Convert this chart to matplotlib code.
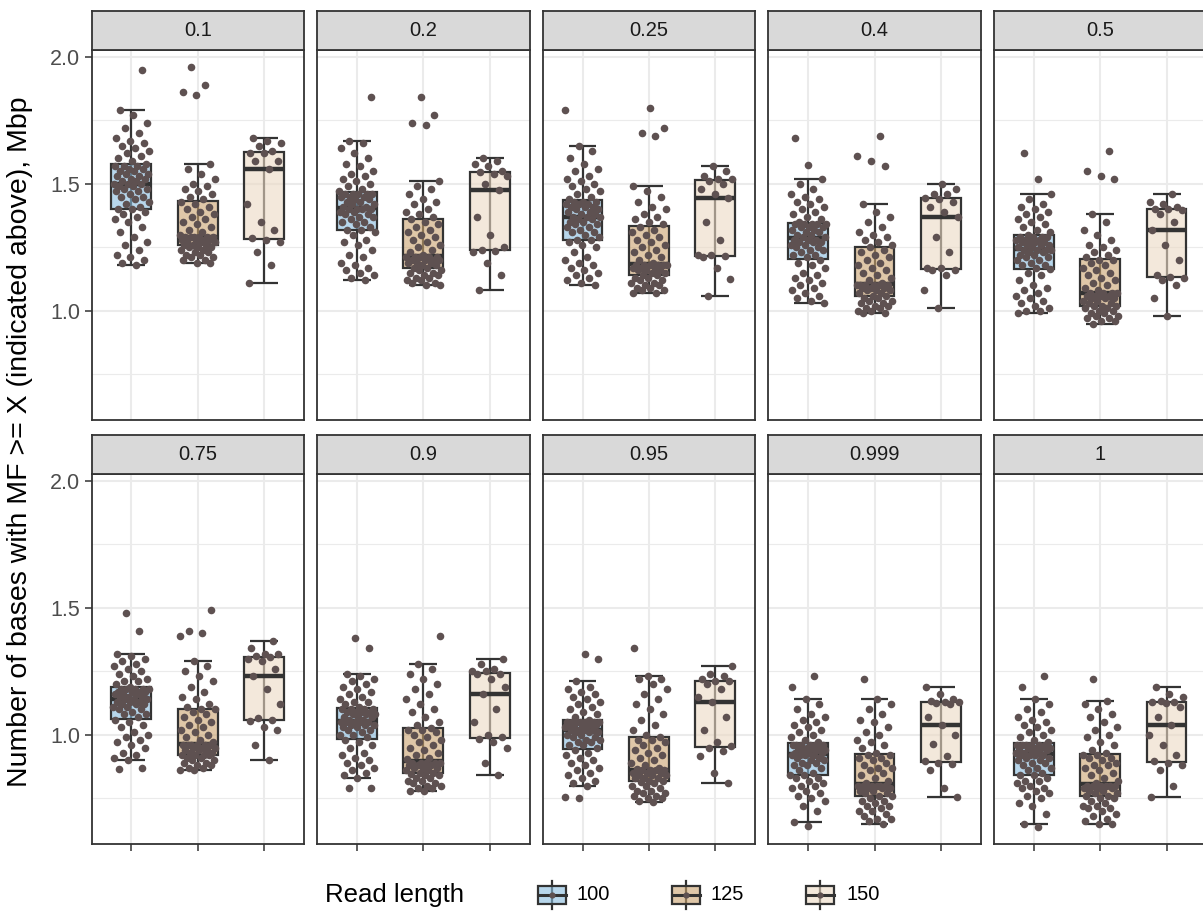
import numpy as np
import matplotlib
matplotlib.use("Agg")
import matplotlib.pyplot as plt
from matplotlib.patches import Rectangle
from matplotlib import cbook

# ---------------- data (Mbp) ----------------
thresholds = ["0.1", "0.2", "0.25", "0.4", "0.5", "0.75", "0.9", "0.95", "0.999", "1"]
read_lengths = ["100", "125", "150"]

a100_t0_1 = [1.18,1.19,1.20,1.21,1.22,1.24,1.26,1.27,1.29,1.31,1.33,1.35,1.36,1.37,1.38,1.39,1.40,
             1.40,1.41,1.42,1.43,1.44,1.45,1.45,1.46,1.47,1.47,1.48,1.48,1.49,1.49,1.50,1.50,
             1.50,1.51,1.51,1.52,1.52,1.53,1.53,1.54,1.54,1.55,1.55,1.56,1.56,1.57,1.57,1.57,
             1.58,1.59,1.60,1.61,1.62,1.63,1.64,1.65,1.66,1.67,1.68,1.70,1.72,1.74,1.77,1.79,
             1.95]
a125_t0_1 = [1.19,1.19,1.20,1.20,1.21,1.21,1.22,1.22,1.23,1.23,1.24,1.24,1.25,1.25,1.25,
             1.26,1.26,1.26,1.27,1.27,1.27,1.28,1.28,1.28,1.28,1.29,1.29,1.29,1.29,1.29,
             1.29,1.30,1.31,1.32,1.33,1.34,1.35,1.36,1.37,1.38,1.39,1.40,1.41,1.42,1.43,
             1.44,1.45,1.46,1.47,1.48,1.49,1.50,1.52,1.54,1.56,1.58,
             1.85,1.86,1.89,1.96]
a150_t0_1 = [1.11,1.18,1.23,1.27,1.28,1.285,1.32,1.35,1.42,1.56,1.59,1.59,1.62,1.62,1.63,1.65,1.66,1.67,1.68]

a100_t0_2 = [1.12,1.13,1.14,1.15,1.16,1.17,1.18,1.19,1.21,1.22,1.24,1.26,1.27,1.28,1.30,1.31,1.32,
             1.32,1.33,1.34,1.35,1.35,1.36,1.37,1.37,1.38,1.38,1.39,1.39,1.40,1.40,1.40,1.40,
             1.41,1.41,1.42,1.42,1.43,1.43,1.44,1.44,1.45,1.45,1.45,1.46,1.46,1.46,1.46,1.46,
             1.47,1.48,1.49,1.50,1.51,1.52,1.53,1.54,1.55,1.57,1.58,1.60,1.62,1.64,1.66,1.67,
             1.84]
a125_t0_2 = [1.10,1.10,1.11,1.11,1.12,1.12,1.13,1.13,1.14,1.14,1.15,1.15,1.16,1.16,1.17,
             1.17,1.18,1.18,1.19,1.19,1.19,1.20,1.20,1.20,1.20,1.21,1.21,1.21,1.21,1.21,
             1.22,1.23,1.24,1.25,1.26,1.27,1.28,1.29,1.30,1.31,1.32,1.33,1.34,1.35,1.36,
             1.37,1.38,1.39,1.40,1.42,1.43,1.44,1.46,1.48,1.49,1.51,
             1.73,1.74,1.77,1.84]
a150_t0_2 = [1.08,1.14,1.19,1.23,1.235,1.24,1.25,1.30,1.37,1.475,1.50,1.53,1.54,1.545,1.55,1.57,1.58,1.59,1.60]

a100_t0_25 = [1.10,1.11,1.12,1.13,1.14,1.15,1.16,1.17,1.18,1.19,1.20,1.21,1.23,1.25,1.26,1.27,1.28,
              1.28,1.29,1.30,1.31,1.31,1.32,1.33,1.33,1.34,1.34,1.35,1.35,1.36,1.36,1.37,1.37,
              1.37,1.38,1.38,1.39,1.39,1.40,1.40,1.41,1.41,1.41,1.42,1.42,1.42,1.43,1.43,1.43,
              1.44,1.45,1.46,1.47,1.48,1.49,1.50,1.51,1.52,1.53,1.55,1.56,1.58,1.60,1.63,1.65,
              1.79]
a125_t0_25 = [1.07,1.07,1.08,1.08,1.09,1.09,1.10,1.10,1.11,1.11,1.12,1.12,1.13,1.13,1.14,
              1.14,1.15,1.15,1.16,1.16,1.16,1.17,1.17,1.17,1.18,1.18,1.18,1.18,1.18,1.18,
              1.19,1.20,1.21,1.22,1.23,1.24,1.25,1.26,1.27,1.28,1.29,1.30,1.31,1.32,1.33,
              1.34,1.35,1.36,1.37,1.38,1.40,1.41,1.43,1.45,1.47,1.49,
              1.69,1.70,1.72,1.80]
a150_t0_25 = [1.06,1.125,1.17,1.21,1.215,1.22,1.22,1.28,1.35,1.445,1.46,1.48,1.50,1.51,1.52,1.52,1.53,1.55,1.57]

a100_t0_4 = [1.03,1.04,1.05,1.06,1.07,1.08,1.09,1.10,1.11,1.12,1.13,1.14,1.15,1.17,1.18,1.19,1.20,
             1.21,1.22,1.22,1.23,1.24,1.24,1.25,1.25,1.26,1.26,1.27,1.27,1.27,1.28,1.28,1.28,
             1.29,1.29,1.30,1.30,1.31,1.31,1.32,1.32,1.33,1.33,1.33,1.34,1.34,1.34,1.34,1.34,
             1.35,1.36,1.37,1.38,1.39,1.40,1.41,1.42,1.43,1.44,1.45,1.46,1.48,1.50,1.52,
             1.575,1.68]
a125_t0_4 = [0.99,0.99,1.00,1.00,1.01,1.01,1.02,1.02,1.03,1.03,1.04,1.04,1.05,1.05,1.06,
             1.06,1.07,1.07,1.08,1.08,1.08,1.09,1.09,1.09,1.10,1.10,1.10,1.10,1.10,1.10,
             1.11,1.12,1.13,1.14,1.15,1.16,1.17,1.18,1.19,1.20,1.21,1.22,1.23,1.24,1.25,
             1.26,1.27,1.28,1.29,1.30,1.31,1.33,1.35,1.37,1.39,1.42,
             1.57,1.59,1.61,1.69]
a150_t0_4 = [1.01,1.08,1.14,1.16,1.16,1.17,1.17,1.23,1.29,1.37,1.39,1.41,1.43,1.44,1.445,1.46,1.46,1.48,1.50]

a100_t0_5 = [0.99,1.00,1.00,1.01,1.02,1.03,1.04,1.05,1.06,1.07,1.08,1.09,1.10,1.12,1.14,1.15,1.165,
             1.17,1.18,1.18,1.19,1.20,1.20,1.21,1.21,1.22,1.22,1.23,1.23,1.24,1.24,1.24,1.24,
             1.25,1.25,1.26,1.26,1.26,1.27,1.27,1.27,1.28,1.28,1.28,1.28,1.29,1.29,1.29,1.29,
             1.30,1.31,1.32,1.33,1.34,1.35,1.36,1.37,1.38,1.39,1.40,1.41,1.42,1.44,1.46,
             1.52,1.62]
a125_t0_5 = [0.95,0.96,0.96,0.97,0.97,0.98,0.98,0.99,0.99,1.00,1.00,1.01,1.01,1.02,1.02,
             1.02,1.03,1.03,1.04,1.04,1.05,1.05,1.05,1.06,1.06,1.06,1.06,1.07,1.07,1.07,
             1.07,1.08,1.09,1.10,1.11,1.12,1.13,1.14,1.15,1.16,1.17,1.18,1.19,1.20,1.20,
             1.21,1.22,1.23,1.24,1.25,1.26,1.28,1.30,1.32,1.35,1.38,
             1.52,1.53,1.55,1.63]
a150_t0_5 = [0.98,1.05,1.10,1.12,1.13,1.135,1.14,1.20,1.26,1.32,1.35,1.38,1.395,1.40,1.40,1.41,1.42,1.43,1.46]

a100_t0_75 = [0.865,0.87,0.90,0.91,0.92,0.93,0.95,0.96,0.97,0.98,0.99,1.00,1.01,1.03,1.04,1.05,1.06,
              1.07,1.08,1.08,1.09,1.10,1.10,1.11,1.11,1.12,1.12,1.12,1.13,1.13,1.13,1.14,1.14,
              1.14,1.15,1.15,1.15,1.16,1.16,1.16,1.17,1.17,1.17,1.17,1.18,1.18,1.18,1.18,1.18,
              1.19,1.20,1.21,1.21,1.22,1.23,1.24,1.25,1.26,1.27,1.28,1.29,1.30,1.31,1.32,
              1.41,1.48]
a125_t0_75 = [0.86,0.86,0.87,0.87,0.88,0.88,0.89,0.89,0.90,0.90,0.91,0.91,0.92,0.92,0.92,
              0.92,0.93,0.93,0.94,0.94,0.94,0.95,0.95,0.95,0.96,0.96,0.96,0.96,0.96,0.96,
              0.97,0.98,0.99,1.00,1.01,1.02,1.03,1.04,1.05,1.06,1.07,1.08,1.09,1.10,1.10,
              1.11,1.12,1.14,1.15,1.17,1.19,1.21,1.23,1.25,1.27,1.29,
              1.39,1.40,1.41,1.49]
a150_t0_75 = [0.90,0.96,1.02,1.03,1.055,1.06,1.065,1.12,1.18,1.23,1.26,1.29,1.30,1.305,1.31,1.32,1.32,1.34,1.37]

a100_t0_9 = [0.79,0.79,0.83,0.84,0.85,0.86,0.87,0.88,0.89,0.90,0.91,0.92,0.93,0.95,0.96,0.97,0.98,
             0.99,1.00,1.00,1.01,1.02,1.02,1.03,1.03,1.04,1.04,1.04,1.05,1.05,1.05,1.05,1.05,
             1.06,1.06,1.07,1.07,1.07,1.08,1.08,1.08,1.09,1.09,1.09,1.09,1.10,1.10,1.10,1.10,
             1.11,1.12,1.13,1.13,1.14,1.15,1.16,1.17,1.18,1.19,1.20,1.21,1.22,1.23,1.24,
             1.34,1.38]
a125_t0_9 = [0.78,0.78,0.79,0.79,0.80,0.80,0.81,0.81,0.82,0.82,0.83,0.83,0.84,0.84,0.845,
             0.85,0.85,0.86,0.86,0.87,0.87,0.87,0.88,0.88,0.88,0.89,0.89,0.89,0.89,0.89,
             0.905,0.91,0.92,0.93,0.94,0.95,0.96,0.97,0.98,0.99,1.00,1.01,1.02,1.02,1.025,
             1.04,1.05,1.07,1.09,1.10,1.12,1.14,1.16,1.18,1.20,1.22,1.24,1.26,1.28,
             1.39]
a150_t0_9 = [0.84,0.89,0.95,0.97,0.985,0.99,1.00,1.05,1.10,1.16,1.19,1.22,1.24,1.24,1.25,1.25,1.26,1.28,1.30]

a100_t0_95 = [0.75,0.755,0.80,0.81,0.82,0.83,0.84,0.85,0.86,0.87,0.88,0.89,0.90,0.91,0.92,0.93,0.94,
              0.95,0.96,0.96,0.97,0.97,0.98,0.98,0.99,0.99,1.00,1.00,1.01,1.01,1.01,1.02,1.02,
              1.02,1.02,1.03,1.03,1.03,1.04,1.04,1.04,1.04,1.05,1.05,1.05,1.05,1.05,1.05,1.05,
              1.06,1.07,1.08,1.09,1.10,1.11,1.12,1.13,1.14,1.15,1.16,1.17,1.18,1.19,1.21,
              1.30,1.32]
a125_t0_95 = [0.735,0.74,0.75,0.75,0.76,0.76,0.77,0.77,0.78,0.78,0.79,0.80,0.80,0.81,0.815,
              0.82,0.82,0.83,0.83,0.83,0.84,0.84,0.84,0.85,0.85,0.85,0.86,0.86,0.86,0.86,
              0.865,0.87,0.88,0.89,0.90,0.91,0.92,0.93,0.94,0.95,0.96,0.97,0.98,0.98,0.99,
              1.00,1.02,1.04,1.06,1.08,1.10,1.12,1.14,1.16,1.18,1.20,1.22,1.22,1.23,
              1.34]
a150_t0_95 = [0.81,0.85,0.915,0.935,0.95,0.955,0.97,1.02,1.07,1.13,1.15,1.18,1.20,1.21,1.21,1.22,1.23,1.24,1.27]

a100_t0_999 = [0.64,0.655,0.70,0.72,0.74,0.75,0.76,0.77,0.78,0.79,0.80,0.80,0.81,0.82,0.83,0.83,0.84,
               0.84,0.85,0.86,0.87,0.88,0.88,0.89,0.89,0.90,0.90,0.91,0.91,0.92,0.92,0.92,0.92,
               0.93,0.93,0.93,0.94,0.94,0.94,0.95,0.95,0.95,0.95,0.96,0.96,0.96,0.96,0.96,0.96,
               0.97,0.98,0.99,1.00,1.01,1.02,1.03,1.04,1.05,1.06,1.07,1.08,1.10,1.12,1.14,
               1.19,1.23]
a125_t0_999 = [0.65,0.66,0.67,0.67,0.68,0.69,0.70,0.70,0.71,0.72,0.72,0.73,0.74,0.74,0.75,
               0.76,0.76,0.77,0.77,0.78,0.78,0.79,0.79,0.79,0.80,0.80,0.80,0.80,0.80,0.80,
               0.81,0.82,0.83,0.84,0.85,0.86,0.87,0.87,0.88,0.89,0.90,0.91,0.91,0.92,0.92,
               0.93,0.95,0.96,0.97,0.98,1.00,1.01,1.03,1.05,1.06,1.08,1.10,1.12,1.14,
               1.22]
a150_t0_999 = [0.755,0.79,0.86,0.885,0.89,0.895,0.915,0.965,1.00,1.04,1.07,1.12,1.125,1.13,1.13,1.135,1.14,1.16,1.19]

a100_t1 = [0.635,0.65,0.69,0.72,0.73,0.75,0.76,0.77,0.78,0.79,0.79,0.80,0.81,0.82,0.82,0.83,0.84,
           0.84,0.85,0.86,0.87,0.87,0.88,0.89,0.89,0.90,0.90,0.91,0.91,0.92,0.92,0.92,0.92,
           0.93,0.93,0.93,0.94,0.94,0.94,0.95,0.95,0.95,0.95,0.96,0.96,0.96,0.96,0.96,0.96,
           0.97,0.98,0.99,1.00,1.01,1.02,1.03,1.04,1.05,1.06,1.07,1.09,1.10,1.12,1.14,
           1.19,1.23]
a125_t1 = [0.65,0.65,0.66,0.67,0.68,0.69,0.70,0.71,0.71,0.72,0.72,0.73,0.74,0.75,0.75,
           0.76,0.76,0.77,0.77,0.78,0.78,0.79,0.79,0.79,0.80,0.80,0.80,0.80,0.80,0.80,
           0.81,0.82,0.83,0.84,0.85,0.86,0.87,0.88,0.88,0.89,0.90,0.91,0.91,0.92,0.92,
           0.93,0.94,0.96,0.97,0.99,1.00,1.02,1.03,1.05,1.07,1.08,1.10,1.12,1.135,
           1.22]
a150_t1 = [0.755,0.80,0.86,0.88,0.89,0.895,0.92,0.96,1.00,1.04,1.07,1.11,1.125,1.13,1.13,1.135,1.15,1.16,1.19]

values = {
    "0.1":   [a100_t0_1, a125_t0_1, a150_t0_1],
    "0.2":   [a100_t0_2, a125_t0_2, a150_t0_2],
    "0.25":  [a100_t0_25, a125_t0_25, a150_t0_25],
    "0.4":   [a100_t0_4, a125_t0_4, a150_t0_4],
    "0.5":   [a100_t0_5, a125_t0_5, a150_t0_5],
    "0.75":  [a100_t0_75, a125_t0_75, a150_t0_75],
    "0.9":   [a100_t0_9, a125_t0_9, a150_t0_9],
    "0.95":  [a100_t0_95, a125_t0_95, a150_t0_95],
    "0.999": [a100_t0_999, a125_t0_999, a150_t0_999],
    "1":     [a100_t1, a125_t1, a150_t1],
}

# ---------------- style ----------------
fill_colors = ["#87BCDF", "#CBA36E", "#EBD9C3"]
fill_alpha = 0.6
line_col = "#333333"
point_col = "#5E5151"
grid_col = "#EBEBEB"

plt.rcParams['font.family'] = ['Liberation Sans', 'DejaVu Sans']

W, H = 1203, 914
fig = plt.figure(figsize=(W / 100, H / 100), dpi=100)
fig.patch.set_facecolor("white")


def add_px_axes(left, top, width, height, **kw):
    return fig.add_axes([left / W, 1 - (top + height) / H, width / W, height / H], **kw)


PANEL_LEFT = [91.5, 317.1, 542.7, 768.3, 993.9]
PANEL_W = 212.5
PANEL_TOP = [50, 474]
PANEL_H = 370
STRIP_H = 39
YLIM = (0.57, 2.027)
BOX_W = 0.6
CAP_W = 0.42
JIT_W = 0.27


def jitter(n, shift):
    k = np.arange(n)
    return (((k + 1) * 0.6180339887 + shift) % 1.0 - 0.5) * 2 * JIT_W


for idx, thr in enumerate(thresholds):
    r, c = divmod(idx, 5)
    ax = add_px_axes(PANEL_LEFT[c], PANEL_TOP[r], PANEL_W, PANEL_H)
    ax.set_xlim(0.4, 3.6)
    ax.set_ylim(*YLIM)
    ax.set_yticks([1.0, 1.5, 2.0])
    ax.set_yticks([0.75, 1.25, 1.75], minor=True)
    ax.set_yticklabels(["1.0", "1.5", "2.0"])
    ax.set_xticks([1, 2, 3])
    ax.set_xticklabels([])
    ax.grid(which="major", color=grid_col, lw=1.5)
    ax.grid(which="minor", axis="y", color=grid_col, lw=0.8)
    ax.set_axisbelow(True)
    for s in ax.spines.values():
        s.set_color(line_col)
        s.set_linewidth(1.3)
    ax.tick_params(which="minor", length=0)
    ax.tick_params(axis="y", which="major", length=5, width=1.1, color=line_col,
                   labelsize=15.5, labelcolor="#4D4D4D", pad=3,
                   left=(c == 0), labelleft=(c == 0))
    ax.tick_params(axis="x", which="major", length=5, width=1.1, color=line_col,
                   bottom=(r == 1), labelbottom=False)

    for g, vals in enumerate(values[thr]):
        x = g + 1
        st = cbook.boxplot_stats(np.asarray(vals), whis=1.5)[0]
        ax.vlines(x, st["whislo"], st["whishi"], color=line_col, lw=1.6, zorder=2)
        ax.hlines([st["whislo"], st["whishi"]], x - CAP_W / 2, x + CAP_W / 2,
                  color=line_col, lw=1.6, zorder=2)
        fc = matplotlib.colors.to_rgba(fill_colors[g], fill_alpha)
        ax.add_patch(Rectangle((x - BOX_W / 2, st["q1"]), BOX_W, st["q3"] - st["q1"],
                               facecolor=fc, edgecolor=line_col, lw=1.6, zorder=3))
        ax.hlines(st["med"], x - BOX_W / 2, x + BOX_W / 2, color=line_col, lw=3.2, zorder=3)
        ax.scatter(x + jitter(len(vals), 0.23 * g + 0.11 * idx), vals, s=30,
                   color=point_col, lw=0, zorder=4)

    sax = add_px_axes(PANEL_LEFT[c], PANEL_TOP[r] - STRIP_H, PANEL_W, STRIP_H)
    sax.set_facecolor("#D9D9D9")
    sax.set_xticks([]); sax.set_yticks([])
    for s in sax.spines.values():
        s.set_color(line_col)
        s.set_linewidth(1.3)
    sax.text(0.5, 0.5, thr, ha="center", va="center", fontsize=14.5,
             color="#1A1A1A", transform=sax.transAxes)

# y-axis title
fig.text(20 / W, 1 - 442 / H, "Number of bases with MF >= X (indicated above), Mbp",
         rotation=90, ha="center", va="center", fontsize=20.5, color="black")

# legend (drawn in pixel space)
lax = fig.add_axes([0, 0, 1, 1], zorder=-1)
lax.set_xlim(0, W); lax.set_ylim(H, 0)
lax.axis("off")
lax.text(325, 895, "Read length", ha="left", va="center", fontsize=18.5, color="black")
key_cx = [552, 686, 820]
key_tx = [577, 711, 846]
for g, lab in enumerate(read_lengths):
    cx, cy = key_cx[g], 895
    lax.plot([cx, cx], [cy - 14, cy + 14], color=line_col, lw=1.6, zorder=1)
    lax.add_patch(Rectangle((cx - 14, cy - 9), 28, 18,
                            facecolor=matplotlib.colors.to_rgba(fill_colors[g], fill_alpha),
                            edgecolor=line_col, lw=1.6, zorder=2))
    lax.plot([cx - 14, cx + 14], [cy, cy], color=line_col, lw=2.2, zorder=3)
    lax.scatter([cx], [cy], s=20, color=point_col, lw=0, zorder=4)
    lax.text(key_tx[g], cy, lab, ha="left", va="center", fontsize=14.5, color="black")

fig.savefig("out.png", dpi=100, facecolor="white")
